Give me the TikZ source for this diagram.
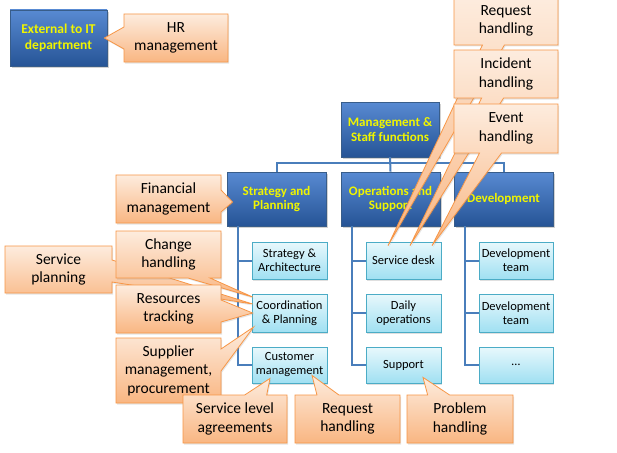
\documentclass[tikz,border=0pt]{standalone}
\usepackage{fontspec}
\setmainfont{Carlito}
\usetikzlibrary{shapes.callouts,shadows,calc}
\definecolor{btop}{RGB}{88,138,210}
\definecolor{bbot}{RGB}{38,84,150}
\definecolor{bborder}{RGB}{56,93,138}
\definecolor{ytxt}{RGB}{240,245,0}
\definecolor{ltop}{RGB}{232,248,252}
\definecolor{lbot}{RGB}{160,224,242}
\definecolor{lborder}{RGB}{75,172,198}
\definecolor{ctop}{RGB}{253,236,222}
\definecolor{cbot}{RGB}{249,182,130}
\definecolor{corange}{RGB}{247,150,70}
\definecolor{conn}{RGB}{74,126,187}
\begin{document}
\begin{tikzpicture}[x=1pt,y=-1pt,
  bluebox/.style={draw=bborder, line width=0.8pt, top color=btop, bottom color=bbot,
    text=ytxt, font=\fontsize{13}{14.5}\selectfont\bfseries, align=center, inner sep=0pt,
    drop shadow={opacity=0.35,shadow xshift=1.5pt,shadow yshift=-2pt}},
  lightbox/.style={draw=lborder, line width=0.8pt, top color=ltop, bottom color=lbot,
    font=\fontsize{12.5}{14}\selectfont, align=center, inner sep=0pt,
    minimum width=75pt, minimum height=37pt,
    drop shadow={opacity=0.25,shadow xshift=1pt,shadow yshift=-1.5pt}},
  callbox/.style={rectangle callout, draw=corange, line width=0.8pt, top color=ctop, bottom color=cbot,
    font=\fontsize{15.5}{18.5}\selectfont, align=center, inner sep=0pt,
    callout pointer width=22pt,
    drop shadow={opacity=0.2,shadow xshift=1pt,shadow yshift=-1.5pt}},
  link/.style={draw=conn, line width=2pt}
]
\useasboundingbox (0,0) rectangle (617,452);
\fill[white] (0,0) rectangle (617,452);

% org chart
\node[bluebox, minimum width=97pt, minimum height=56pt, font=\fontsize{13.5}{15.5}\selectfont\bfseries] (ext) at (58.5,38) {External to IT\\department};
\node[bluebox, minimum width=98pt, minimum height=55pt] (mgmt) at (390,129.5) {Management \&\\Staff functions};
\node[bluebox, minimum width=99pt, minimum height=54pt] (strat) at (276.5,199) {Strategy and\\Planning};
\node[bluebox, minimum width=99pt, minimum height=54pt] (ops) at (390.5,199) {Operations and\\Support};
\node[bluebox, minimum width=99pt, minimum height=54pt] (dev) at (503.5,199) {Development};

\node[lightbox] (sa) at (289.5,260.5) {Strategy \&\\Architecture};
\node[lightbox, minimum height=38pt] (coord) at (289.5,313) {Coordination\\\& Planning};
\node[lightbox, minimum height=36pt] (cust) at (289.5,365) {Customer\\management};
\node[lightbox] (sd) at (403.5,260.5) {Service desk};
\node[lightbox, minimum height=38pt] (daily) at (403.5,313) {Daily\\operations};
\node[lightbox, minimum height=36pt] (sup) at (403.5,365) {Support};
\node[lightbox, minimum width=74pt] (dev1) at (516,260.5) {Development\\team};
\node[lightbox, minimum width=74pt, minimum height=38pt] (dev2) at (516,313) {Development\\team};
\node[lightbox, minimum width=74pt, minimum height=36pt] (dev3) at (516,365) {\dots};

\draw[link] (mgmt.south) -- ++(0,6) -| (strat.north);
\draw[link] (mgmt.south) -- ++(0,6) -| (dev.north);
\draw[link] (mgmt.south) -- (ops.north);
\draw[link] ([xshift=11pt]strat.south west) |- (sa.west);
\draw[link] ([xshift=11pt]strat.south west) |- (coord.west);
\draw[link] ([xshift=11pt]strat.south west) |- (cust.west);
\draw[link] ([xshift=11pt]ops.south west) |- (sd.west);
\draw[link] ([xshift=11pt]ops.south west) |- (daily.west);
\draw[link] ([xshift=11pt]ops.south west) |- (sup.west);
\draw[link] ([xshift=11pt]dev.south west) |- (dev1.west);
\draw[link] ([xshift=11pt]dev.south west) |- (dev2.west);
\draw[link] ([xshift=11pt]dev.south west) |- (dev3.west);

% pointer tips
\coordinate (tHR) at ($(ext.east)+(-3,0)$);
\coordinate (tFin) at ($(strat.west)+(6,3)$);
\coordinate (tChg) at ($(coord.west)+(1,-16)$);
\coordinate (tSvc) at ($(coord.west)+(1,-9)$);
\coordinate (tRes) at ($(coord.west)+(1,0)$);
\coordinate (tSupl) at ($(coord.west)+(2,14)$);
\coordinate (tSLA) at ($(cust.south)+(-19.5,-5)$);
\coordinate (tReqB) at ($(cust.south)+(22.5,-8)$);
\coordinate (tPrb) at ($(sup.south)+(19.5,-6)$);
\coordinate (tReqT) at ($(sd.north)+(-15.5,4)$);
\coordinate (tInc) at ($(sd.north)+(6.5,4)$);
\coordinate (tEvt) at ($(sd.north)+(28.5,4)$);

% callouts
\node[callbox, minimum width=104pt, minimum height=48pt, callout absolute pointer=(tHR)] (hr) at (176,38) {HR\\management};
\node[callbox, minimum width=105pt, minimum height=48pt, callout absolute pointer=(tFin)] (fin) at (168.5,199) {Financial\\management};
\node[callbox, minimum width=107pt, minimum height=47pt, callout absolute pointer=(tSvc)] (svc) at (58.5,269.5) {Service\\planning};
\node[callbox, minimum width=105pt, minimum height=47pt, callout absolute pointer=(tChg)] (chg) at (168.5,254.5) {Change\\handling};
\node[callbox, minimum width=105pt, minimum height=48pt, callout absolute pointer=(tRes)] (res) at (168.5,309) {Resources\\tracking};
\node[callbox, minimum width=105pt, minimum height=65pt, callout absolute pointer=(tSupl)] (supl) at (168.5,370.5) {Supplier\\management,\\procurement};
\node[callbox, minimum width=104pt, minimum height=48pt, callout absolute pointer=(tSLA)] (sla) at (235,419) {Service level\\agreements};
\node[callbox, minimum width=105pt, minimum height=48pt, callout absolute pointer=(tReqB)] (reqb) at (347.5,419) {Request\\handling};
\node[callbox, minimum width=106pt, minimum height=48pt, callout absolute pointer=(tPrb)] (prb) at (460,419) {Problem\\handling};
\node[callbox, minimum width=104pt, minimum height=48pt, callout absolute pointer=(tReqT)] (reqt) at (506,21) {Request\\handling};
\node[callbox, minimum width=104pt, minimum height=48pt, callout absolute pointer=(tInc)] (inc) at (506,74) {Incident\\handling};
\node[callbox, minimum width=104pt, minimum height=49pt, callout absolute pointer=(tEvt)] (evt) at (506,128.5) {Event\\handling};
\end{tikzpicture}
\end{document}
